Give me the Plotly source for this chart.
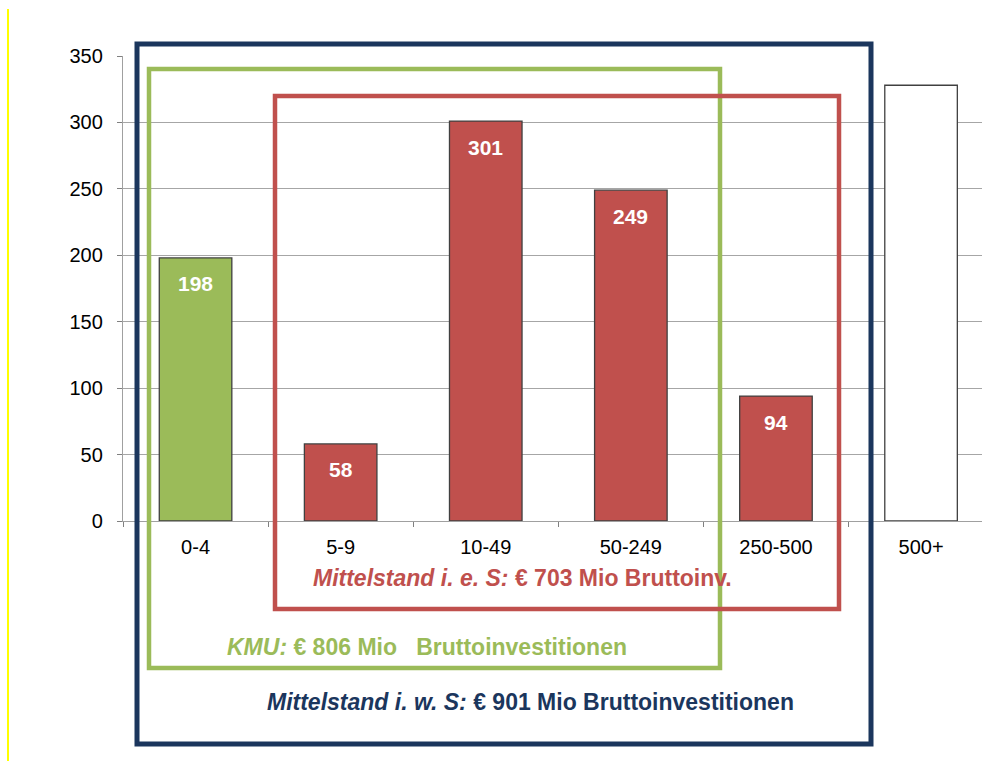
import plotly.graph_objects as go

# Gross investment by company size class (employees), € million
categories = ["0-4", "5-9", "10-49", "50-249", "250-500", "500+"]
values = [198, 58, 301, 249, 94, 328]
show_label = [True, True, True, True, True, False]
fill_colors = ["#9BBB59", "#C0504D", "#C0504D", "#C0504D", "#C0504D", "#FFFFFF"]

y_ticks = [0, 50, 100, 150, 200, 250, 300, 350]

W, H = 982, 761
L, R, T, B = 123, 0, 56, 240
PW, PH = W - L - R, H - T - B

NAVY = "#1B365D"
GREEN = "#9BBB59"
RED = "#C0504D"
FONT = "Liberation Sans, Arial, sans-serif"


def px(x):
    return (x - L) / PW


def py(y):
    return (H - B - y) / PH


fig = go.Figure()
fig.add_trace(go.Bar(
    x=categories,
    y=values,
    width=0.5,
    marker=dict(color=fill_colors, line=dict(color="#404040", width=1.3)),
    hoverinfo="x+y",
))

# value labels inside the bars, near the top
annotations = []
for c, v, s in zip(categories, values, show_label):
    if s:
        annotations.append(dict(
            x=c, y=v, xref="x", yref="y", text=f"<b>{v}</b>", showarrow=False,
            yanchor="middle", yshift=-26,
            font=dict(family=FONT, size=21, color="white"),
        ))


def box(x0, y0, x1, y1, color, width):
    return dict(type="rect", xref="paper", yref="paper",
                x0=px(x0), x1=px(x1), y0=py(y1), y1=py(y0),
                line=dict(color=color, width=width), fillcolor="rgba(0,0,0,0)",
                layer="above")


shapes = [
    # thin yellow rule at the left edge
    dict(type="line", xref="paper", yref="paper", x0=px(8), x1=px(8), y0=py(9), y1=py(761),
         line=dict(color="#FFFF00", width=2)),
    box(137, 44, 871, 744, NAVY, 5),
    box(149, 69, 720, 668, GREEN, 4.5),
    box(275, 96, 839, 609, RED, 4.5),
]


def label(x, y, text, color, size):
    return dict(xref="paper", yref="paper", x=px(x), y=py(y), showarrow=False,
                xanchor="center", yanchor="middle", text=text,
                font=dict(family=FONT, size=size, color=color))


annotations += [
    label(522, 578, "<b><i>Mittelstand i. e. S:</i> € 703 Mio Bruttoinv.</b>", RED, 23),
    label(427, 647, "<b><i>KMU:</i> € 806 Mio   Bruttoinvestitionen</b>", GREEN, 23),
    label(530, 702, "<b><i>Mittelstand i. w. S:</i> € 901 Mio Bruttoinvestitionen</b>", NAVY, 23),
]

fig.update_layout(
    width=W, height=H,
    margin=dict(l=L, r=R, t=T, b=B, pad=0),
    paper_bgcolor="white", plot_bgcolor="white",
    showlegend=False,
    bargap=0.5,
    font=dict(family=FONT, size=20, color="black"),
    xaxis=dict(
        type="category", range=[-0.5, 5.42], tickson="boundaries",
        ticks="outside", ticklen=5, tickcolor="#808080",
        showline=True, linecolor="#A0A0A0", linewidth=1.3,
        showgrid=False, tickfont=dict(size=20), ticklabelstandoff=8,
        fixedrange=True,
    ),
    yaxis=dict(
        range=[0, 350], tickvals=y_ticks,
        ticks="outside", ticklen=5, tickcolor="#808080",
        showline=True, linecolor="#A0A0A0", linewidth=1.3,
        showgrid=True, gridcolor="#A6A6A6", gridwidth=1.3,
        zeroline=False, tickfont=dict(size=20), ticklabelstandoff=10,
        fixedrange=True,
    ),
    shapes=shapes,
    annotations=annotations,
)

fig.write_html("out.html")
